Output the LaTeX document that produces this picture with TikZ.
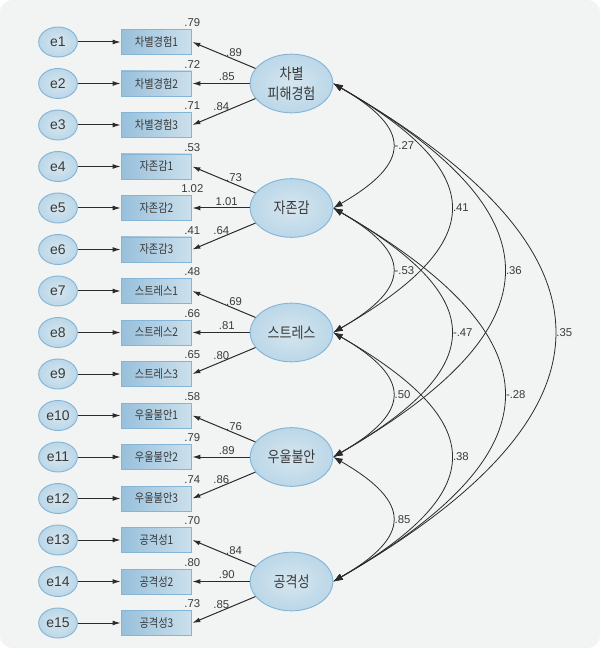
\documentclass[tikz,border=0pt]{standalone}
\usepackage{fontspec}
\setmainfont{Liberation Sans}
\newfontfamily\kr[FakeStretch=0.85]{Noto Sans CJK KR}
\usetikzlibrary{arrows.meta,shapes.geometric}

\definecolor{bgcol}{HTML}{F2F4F4}
\definecolor{edgecol}{HTML}{84B5D6}
\definecolor{ellin}{HTML}{D6E6EF}
\definecolor{ellout}{HTML}{A0C8E1}
\definecolor{boxl}{HTML}{98C0DB}
\definecolor{boxr}{HTML}{CCE0EC}
\definecolor{linecol}{HTML}{2E2A2B}
\definecolor{txtcol}{HTML}{3A3A3A}
\pgfdeclareradialshading{latshade}{\pgfpoint{0bp}{0bp}}{color(0bp)=(ellin); color(50bp)=(ellout)}

\begin{document}
\begin{tikzpicture}[x=0.75pt, y=-0.75pt,
    >={Latex[length=6pt,width=3.6pt]},
    every node/.style={text=txtcol},
    err/.style={ellipse, draw=edgecol, line width=0.7pt, shade, shading=latshade,
        minimum width=29pt, minimum height=22.5pt, inner sep=0pt,
        font=\fontsize{10.5}{12}\selectfont},
    obs/.style={rectangle, draw=edgecol, line width=0.7pt, left color=boxl, right color=boxr,
        minimum width=53pt, minimum height=18.75pt, inner sep=0pt,
        font=\kr\fontsize{9}{10}\selectfont},
    lat/.style={ellipse, draw=edgecol, line width=0.7pt, shade, shading=latshade,
        minimum width=62pt, minimum height=44pt, inner sep=0pt, align=center,
        font=\kr\fontsize{11.5}{15}\selectfont},
    num/.style={font=\fontsize{8.5}{10}\selectfont, inner sep=1.5pt},
    arr/.style={draw=linecol, line width=0.75pt},
    cov/.style={<->, draw=linecol, line width=0.6pt, >={Latex[length=7pt,width=5pt]}}]

    % Sfondo
    \fill[white] (0,0) rectangle (600,655);
    \fill[bgcol, rounded corners=9pt] (0,0) rectangle (600,648);
    \useasboundingbox (0,0) rectangle (600,655);

    % Errori e indicatori
    \foreach \i/\itm/\var in {1/차별경험1/.79, 2/차별경험2/.72, 3/차별경험3/.71,
        4/자존감1/.53, 5/자존감2/1.02, 6/자존감3/.41,
        7/스트레스1/.48, 8/스트레스2/.66, 9/스트레스3/.65,
        10/우울불안1/.58, 11/우울불안2/.79, 12/우울불안3/.74,
        13/공격성1/.70, 14/공격성2/.80, 15/공격성3/.73}{
        \node[err] (e\i) at (58,{42+41.5*(\i-1)}) {e\i};
        \node[obs] (b\i) at (156.5,{42+41.5*(\i-1)}) {\itm};
        \draw[arr,->] (e\i) -- (b\i);
        \node[num,above] (v\i) at (b\i.north east) {\var};
    }

    % Fattori latenti
    \node[lat] (f1) at (291.5,83.5) {차별\\피해경험};
    \node[lat] (f2) at (291.5,208) {자존감};
    \node[lat] (f3) at (291.5,332.5) {스트레스};
    \node[lat] (f4) at (291.5,457) {우울불안};
    \node[lat] (f5) at (291.5,581.5) {공격성};

    % Saturazioni
    \foreach \k/\la/\lb/\lc in {1/.89/.85/.84, 2/.73/1.01/.64, 3/.69/.81/.80,
        4/.76/.89/.86, 5/.84/.90/.85}{
        \pgfmathtruncatemacro\ia{3*\k-2}
        \pgfmathtruncatemacro\ib{3*\k-1}
        \pgfmathtruncatemacro\ic{3*\k}
        \draw[arr,->] (f\k) -- (b\ia.east) node[num,pos=0.34,above] {\la};
        \draw[arr,->] (f\k) -- (b\ib.east) node[num,pos=0.4,above] {\lb};
        \draw[arr,->] (f\k) -- (b\ic.east) node[num,pos=0.54,above] {\lc};
    }

    % Covarianze
    \draw[cov] (f1.east) to[out=-30,in=30,looseness=1.87] node[num,right] {-.27} (f2.east);
    \draw[cov] (f2.east) to[out=-30,in=30,looseness=1.87] node[num,right] {-.53} (f3.east);
    \draw[cov] (f3.east) to[out=-30,in=30,looseness=1.87] node[num,right] {.50} (f4.east);
    \draw[cov] (f4.east) to[out=-30,in=30,looseness=1.87] node[num,right] {.85} (f5.east);
    \draw[cov] (f1.east) to[out=-30,in=30,looseness=1.86] node[num,right] {.41} (f3.east);
    \draw[cov] (f2.east) to[out=-30,in=30,looseness=1.86] node[num,right] {-.47} (f4.east);
    \draw[cov] (f3.east) to[out=-30,in=30,looseness=1.86] node[num,right] {.38} (f5.east);
    \draw[cov] (f1.east) to[out=-30,in=30,looseness=1.80] node[num,right] {.36} (f4.east);
    \draw[cov] (f2.east) to[out=-30,in=30,looseness=1.80] node[num,right] {-.28} (f5.east);
    \draw[cov] (f1.east) to[out=-30,in=30,looseness=1.75] node[num,right] {.35} (f5.east);
\end{tikzpicture}
\end{document}
